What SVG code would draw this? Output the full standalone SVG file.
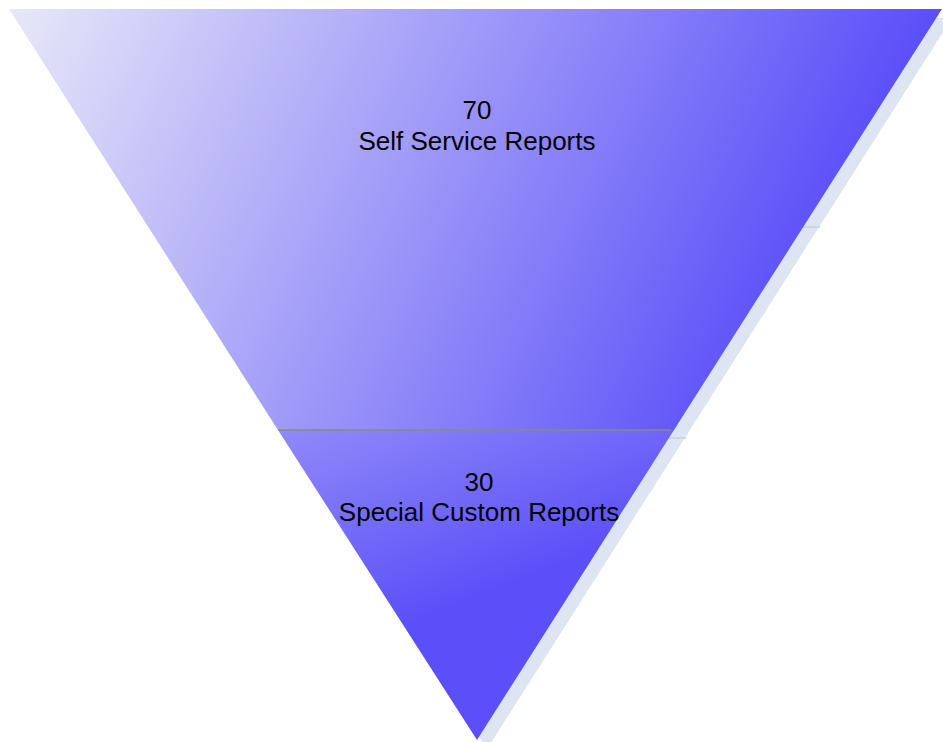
<svg xmlns="http://www.w3.org/2000/svg" width="943" height="742" viewBox="0 0 943 742">
  <defs>
    <linearGradient id="gradTop" gradientUnits="userSpaceOnUse" x1="9" y1="9" x2="761" y2="378">
      <stop offset="0" stop-color="#e8e8f8"/>
      <stop offset="1" stop-color="#5a4ff8"/>
    </linearGradient>
    <linearGradient id="gradBottom" gradientUnits="userSpaceOnUse" x1="146" y1="80" x2="366" y2="644">
      <stop offset="0" stop-color="#e8e8f8"/>
      <stop offset="1" stop-color="#5a4ff8"/>
    </linearGradient>
  </defs>
  <style>
    .shadow { fill: #dde5f3; }
    .shadowline { stroke: #c3d0e6; stroke-width: 1.5; }
    .label { font-family: "Liberation Sans", Arial, sans-serif; font-size: 26px; fill: #000; text-anchor: middle; }
  </style>
  <rect width="943" height="742" fill="#ffffff"/>
  <g id="shadow">
    <polygon class="shadow" points="19,18 952,18 487,749"/>
    <line class="shadowline" x1="800" y1="227" x2="820" y2="227"/>
    <line class="shadowline" x1="668" y1="438" x2="686" y2="438"/>
  </g>
  <g id="segment-top">
    <polygon fill="url(#gradTop)" points="9,9 942,9 674,430 278,430"/>
    <text class="label" x="477" y="119">70</text>
    <text class="label" x="477" y="150">Self Service Reports</text>
  </g>
  <g id="segment-bottom">
    <polygon fill="url(#gradBottom)" points="278,430 674,430 477,740"/>
    <text class="label" x="479" y="491">30</text>
    <text class="label" x="479" y="521">Special Custom Reports</text>
  </g>
  <g id="connectors">
    <line x1="278" y1="430" x2="671" y2="430" stroke="#888888" stroke-width="1.5"/>
  </g>
</svg>
